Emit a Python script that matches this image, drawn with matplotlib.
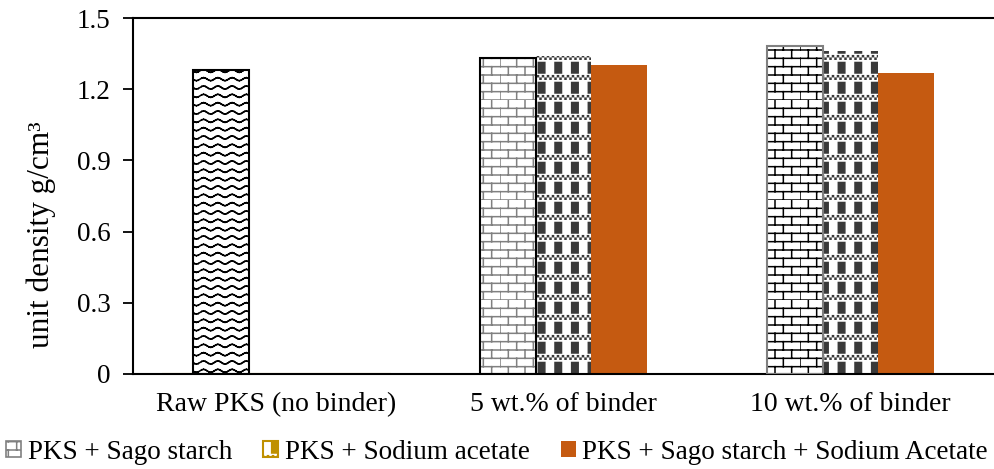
import warnings
import numpy as np
import matplotlib
matplotlib.use("Agg")
import matplotlib.pyplot as plt
import matplotlib.hatch as mhatch
from matplotlib.path import Path

warnings.filterwarnings("ignore")

# data
categories = ["Raw PKS (no binder)", "5 wt.% of binder", "10 wt.% of binder"]
series_names = ["PKS + Sago starch", "PKS + Sodium acetate",
                "PKS + Sago starch + Sodium Acetate"]
raw_pks = [1.28]
sago = [1.33, 1.38]
acetate = [1.34, 1.36]
sago_acetate = [1.30, 1.27]
yticks = [0, 0.3, 0.6, 0.9, 1.2, 1.5]
ytick_labels = ["0", "0.3", "0.6", "0.9", "1.2", "1.5"]


# custom fill patterns (wave, brick, block+checker)
def _segments(segs, vertices, codes):
    for i, (p, q) in enumerate(segs):
        vertices[2 * i] = p
        vertices[2 * i + 1] = q
        codes[2 * i] = Path.MOVETO
        codes[2 * i + 1] = Path.LINETO


class WaveHatch(mhatch.HatchPatternBase):
    def __init__(self, hatch, density):
        n = hatch.count('w')
        self.segs = []
        if n:
            rows, periods, amp = 12, 7, 0.015
            xs = np.linspace(0, 1, periods * 8 + 1)
            for r in range(rows):
                y0 = (r + 0.5) / rows
                ys = y0 + amp * np.sin(2 * np.pi * periods * xs)
                for k in range(len(xs) - 1):
                    self.segs.append(((xs[k], ys[k]), (xs[k + 1], ys[k + 1])))
        self.num_vertices = 2 * len(self.segs)

    def set_vertices_and_codes(self, vertices, codes):
        _segments(self.segs, vertices, codes)


class BrickHatch(mhatch.HatchPatternBase):
    def __init__(self, hatch, density):
        n = hatch.count('b')
        self.segs = []
        if n:
            rows, cols = 12, 6
            for r in range(rows):
                y = r / rows
                self.segs.append(((0, y), (1, y)))
                shift = 0.5 * (r % 2)
                for c in range(cols):
                    x = (c + shift) / cols
                    self.segs.append(((x, y), (x, y + 1 / rows)))
        self.num_vertices = 2 * len(self.segs)

    def set_vertices_and_codes(self, vertices, codes):
        _segments(self.segs, vertices, codes)


class BlockHatch(mhatch.HatchPatternBase):
    def __init__(self, hatch, density):
        n = hatch.count('k')
        self.rects = []
        if n:
            cols, rows = 6, 5
            pw, ph = 1 / cols, 1 / rows
            for r in range(rows):
                for c in range(cols):
                    self.rects.append((c * pw + 0.05, r * ph + 0.07,
                                       0.065, 0.105))
                # checker band between block rows
                cell = 1 / 40
                for row in range(2):
                    yb = r * ph + row * cell + 0.008
                    for k in range(40):
                        if (k + row) % 2 == 0:
                            self.rects.append((k * cell, yb,
                                               cell * 0.4, cell * 0.4))
        self.num_vertices = 5 * len(self.rects)

    def set_vertices_and_codes(self, vertices, codes):
        for i, (x, y, w, h) in enumerate(self.rects):
            vertices[5 * i:5 * i + 5] = [(x, y), (x + w, y), (x + w, y + h),
                                         (x, y + h), (x, y)]
            codes[5 * i:5 * i + 5] = [Path.MOVETO, Path.LINETO, Path.LINETO,
                                      Path.LINETO, Path.CLOSEPOLY]


mhatch._hatch_types.extend([WaveHatch, BrickHatch, BlockHatch])

plt.rcParams['font.family'] = ['Liberation Serif', 'DejaVu Serif']
plt.rcParams['hatch.linewidth'] = 1.1

fig = plt.figure(figsize=(9.94, 4.69), dpi=100)
ax = fig.add_axes([0.1338, 0.2026, 0.8662, 0.759])

x = np.arange(len(categories))
w = 0.195


def hatched_bar(xpos, vals, hatch, hcolor, ecolor):
    ax.bar(xpos, vals, w, color='white', hatch=hatch, edgecolor=hcolor,
           linewidth=0, zorder=2)
    ax.bar(xpos, vals, w, color='none', edgecolor=ecolor, linewidth=1.5,
           zorder=3)


# raw PKS bar
hatched_bar(x[:1] - w, raw_pks, 'w', 'black', 'black')
# sago starch bars: gray brick at 5 %, black brick at 10 %
hatched_bar(x[1:2] - w, sago[:1], 'b', '#808080', 'black')
hatched_bar(x[2:3] - w, sago[1:], 'b', 'black', '#808080')
# sodium acetate bars
hatched_bar(x[1:], acetate, 'k', '#3a3a3a', 'none')
# sago starch + sodium acetate
ax.bar(x[1:] + w, sago_acetate, w, color='#C55A11', zorder=2)

ax.set_xlim(-0.5, 2.5)
ax.set_ylim(0, 1.5)
ax.set_xticks(x)
ax.set_xticklabels(categories, fontsize=20)
ax.set_yticks(yticks)
ax.set_yticklabels(ytick_labels, fontsize=19.5)
ax.tick_params(axis='x', length=0, pad=13)
ax.tick_params(axis='y', length=7, width=1.3, direction='out', pad=9)
for side in ('left', 'bottom', 'top'):
    ax.spines[side].set_linewidth(1.5)
ax.spines['right'].set_visible(False)
ax.set_ylabel('unit density g/cm³', fontsize=22.5)
ax.yaxis.set_label_coords(-0.09, 0.39)

# legend handles
h1 = ax.bar([0], [0], color='white', hatch='b', edgecolor='#808080',
            linewidth=1.2)
h2 = ax.bar([0], [0], color='white', hatch='k', edgecolor='#BF9000',
            linewidth=1.5)
h3 = ax.bar([0], [0], color='#C55A11', linewidth=0)
fig.legend([h1, h2, h3], series_names, loc='center',
           bbox_to_anchor=(0.5, 0.036), ncol=3, frameon=False, fontsize=19.5,
           handlelength=0.55, handleheight=0.55, handletextpad=0.25,
           columnspacing=1.15, borderaxespad=0, borderpad=0)

fig.savefig('out.png', dpi=100)
